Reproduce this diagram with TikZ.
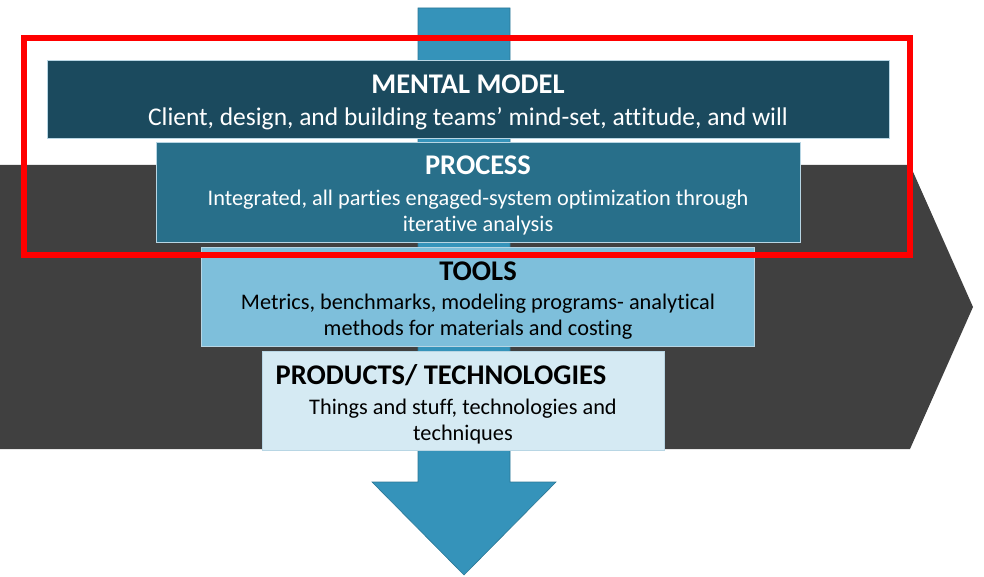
\documentclass[tikz,border=0pt]{standalone}
\usepackage{fontspec}
\setmainfont[RawFeature=-liga]{Carlito}
\definecolor{graybg}{HTML}{404040}
\definecolor{mentalc}{HTML}{1B4A5E}
\definecolor{processc}{HTML}{286F8A}
\definecolor{toolsc}{HTML}{7EBFDB}
\definecolor{prodc}{HTML}{D5EAF3}
\definecolor{arrowc}{HTML}{3593BA}
\definecolor{arrowedge}{HTML}{2C7896}
\definecolor{boxedge}{HTML}{B8D6E4}
\begin{document}
\begin{tikzpicture}[x=1pt,y=-1pt,
  layerbox/.style={draw=boxedge,line width=0.6pt},
  titletext/.style={font=\fontsize{28.5}{32}\selectfont\bfseries,inner sep=0pt},
  bodytext/.style={font=\fontsize{22.3}{26}\selectfont,align=center,inner sep=0pt}]
\useasboundingbox (0,0) rectangle (984,577);
% chevron
\fill[graybg] (0,165) -- (910,165) -- (973,307) -- (910,449) -- (0,449) -- cycle;
% down arrow
\filldraw[fill=arrowc,draw=arrowedge,line width=0.6pt]
  (418,8) -- (510,8) -- (510,482) -- (556,482) -- (464,575) -- (372,482) -- (418,482) -- cycle;
% boxes
\path[layerbox,fill=mentalc] (47,60) rectangle (889,138);
\path[layerbox,fill=processc] (156,142) rectangle (800,242);
\path[layerbox,fill=toolsc] (201,247) rectangle (754,346);
\path[layerbox,fill=prodc] (262,351) rectangle (664,450);
% texts
\node[titletext,text=white] (mt) at (468,84.5) {MENTAL MODEL};
\node[bodytext,text=white,font=\fontsize{25.5}{30}\selectfont] (mb) at (468,119) {Client, design, and building teams’ mind-set, attitude, and will};
\node[titletext,text=white] (pt) at (478,165.5) {PROCESS};
\node[bodytext,text=white] (pb) at (478,212.5) {Integrated, all parties engaged-system optimization through\\iterative analysis};
\node[titletext,text=black] (tt) at (478,271.5) {TOOLS};
\node[bodytext,text=black] (tb) at (478,316.5) {Metrics, benchmarks, modeling programs- analytical\\methods for materials and costing};
\node[titletext,text=black] (prt) at (441,375.5) {PRODUCTS/ TECHNOLOGIES};
\node[bodytext,text=black] (prb) at (463,421.5) {Things and stuff, technologies and\\techniques};
% red frame
\draw[red,line width=6pt] (24,38) rectangle (910,255);
\end{tikzpicture}
\end{document}
